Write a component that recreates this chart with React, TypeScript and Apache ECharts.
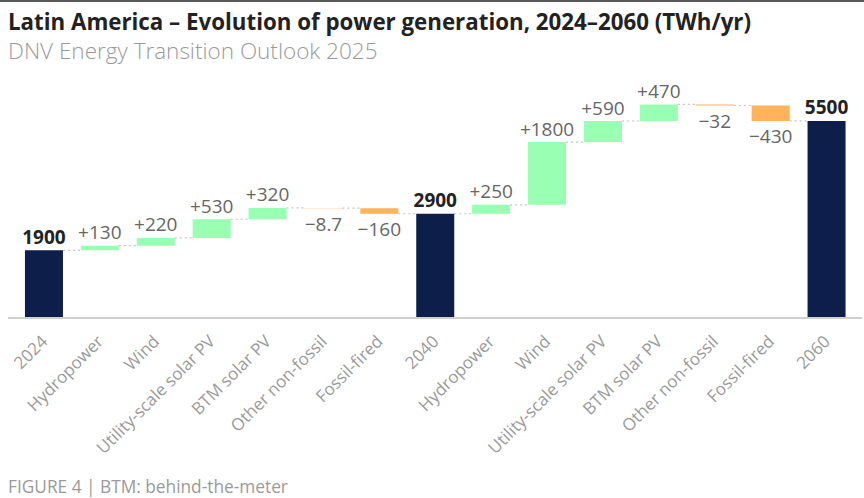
import React, { useEffect, useRef } from "react";
import * as echarts from "echarts";

const categories = [
  "2024", "Hydropower", "Wind", "Utility-scale solar PV", "BTM solar PV", "Other non-fossil", "Fossil-fired",
  "2040", "Hydropower", "Wind", "Utility-scale solar PV", "BTM solar PV", "Other non-fossil", "Fossil-fired",
  "2060",
];
// "total" = running total bar, "delta" = change
const kinds = [
  "total", "delta", "delta", "delta", "delta", "delta", "delta",
  "total", "delta", "delta", "delta", "delta", "delta", "delta",
  "total",
];
const startValue = 1870; // TWh/yr in 2024
const deltas = [0, 130, 216, 525, 318, -8.7, -155, 0, 250, 1760, 590, 466, -32, -432, 0];

const NAVY = "#0e1e4a";
const GREEN = "#99ffb2";
const ORANGE = "#ffb35a";
const FONT = "'Open Sans', 'Noto Sans', sans-serif";

function fmt(v: number) {
  return String(Number(Math.abs(v).toPrecision(2)));
}

export default function App() {
  const ref = useRef<HTMLDivElement>(null);
  useEffect(() => {
    if (!ref.current) return;
    const chart = echarts.init(ref.current, null, { renderer: "svg" });

    const base: any[] = [];
    const vis: any[] = [];
    const levels: number[] = [];
    let cum = startValue;
    categories.forEach((_, i) => {
      if (kinds[i] === "total") {
        base.push(0);
        vis.push({
          value: cum,
          itemStyle: { color: NAVY },
          label: {
            show: true, position: "top", distance: 4,
            formatter: fmt(cum), color: "#222", fontWeight: 700, fontSize: 19, fontFamily: FONT,
          },
        });
      } else {
        const d = deltas[i];
        const next = cum + d;
        base.push(Math.min(cum, next));
        vis.push({
          value: Math.abs(d),
          itemStyle: { color: d >= 0 ? GREEN : ORANGE },
          label: {
            show: true,
            position: d >= 0 ? "top" : "bottom",
            distance: d >= 0 ? 4 : 6,
            formatter: (d >= 0 ? "+" : "\u2212") + fmt(d),
            color: "#666", fontSize: 19, fontFamily: FONT,
          },
        });
        cum = next;
      }
      levels.push(cum);
    });
    const connectors = levels.slice(0, -1).map((lv, i) => [i, lv]);

    const BW = 38;
    chart.setOption({
      animation: false,
      grid: { left: 16, right: 9.5, top: 103, bottom: 181 },
      xAxis: {
        type: "category",
        data: categories,
        axisLine: { show: false },
        axisTick: { show: false },
        axisLabel: {
          interval: 0, rotate: 45, margin: 21,
          color: "#9a9a9a", fontSize: 17, fontFamily: FONT,
        },
      },
      yAxis: { type: "value", min: 0, max: 6000, show: false, splitLine: { show: false } },
      series: [
        {
          type: "custom",
          z: 1,
          data: connectors,
          renderItem: (params: any, api: any) => {
            const i = api.value(0);
            const lv = api.value(1);
            const p1 = api.coord([i, lv]);
            const p2 = api.coord([i + 1, lv]);
            return {
              type: "line",
              shape: { x1: p1[0] + BW / 2, y1: p1[1], x2: p2[0] - BW / 2, y2: p2[1] },
              style: { stroke: "#c4c4c4", lineWidth: 1.2, lineDash: [2, 3] },
            };
          },
        },
        {
          type: "bar", stack: "w", barWidth: BW, data: base,
          itemStyle: { color: "transparent" }, silent: true, z: 2,
        },
        {
          type: "bar", stack: "w", barWidth: BW, data: vis, z: 3,
        },
      ],
      graphic: [
        { type: "rect", shape: { x: 0, y: 0, width: 864, height: 2 }, style: { fill: "#5a5a5a" } },
        {
          type: "text", x: 8, y: 21,
          style: {
            text: "Latin America \u2013 Evolution of power generation, 2024\u20132060 (TWh/yr)",
            fill: "#222", fontSize: 22.3, fontWeight: 700, fontFamily: FONT, textVerticalAlign: "middle",
          },
        },
        {
          type: "text", x: 8, y: 50,
          style: {
            text: "DNV Energy Transition Outlook 2025",
            fill: "#9a9a9a", fontSize: 22.5, fontWeight: 300, fontFamily: FONT, textVerticalAlign: "middle",
          },
        },
        {
          type: "line", shape: { x1: 8, y1: 318, x2: 862, y2: 318 },
          style: { stroke: "#d0d0d0", lineWidth: 2 }, z: 10,
        },
        {
          type: "text", x: 8, y: 486,
          style: {
            text: "FIGURE 4 | BTM: behind-the-meter",
            fill: "#9a9a9a", fontSize: 17.3, fontFamily: FONT, textVerticalAlign: "middle",
          },
        },
      ],
    });
    return () => chart.dispose();
  }, []);
  return (
    <div
      ref={ref}
      style={{ position: "fixed", left: 0, top: 0, width: 864, height: 498, background: "#fff" }}
    />
  );
}
